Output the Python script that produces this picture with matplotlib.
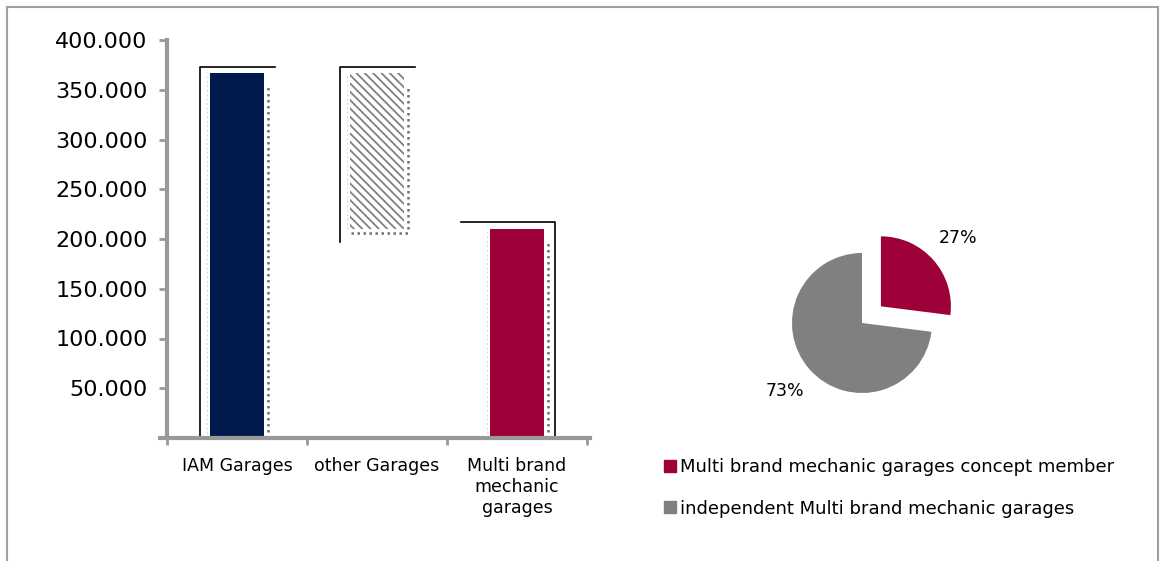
import matplotlib.pyplot as plt
import matplotlib.ticker as mticker
from matplotlib.patches import Rectangle, Patch

# datos del gráfico
categorias = ["IAM Garages", "other Garages", "Multi brand\nmechanic\ngarages"]
valor_iam = 367000
valor_multi = 210000
valor_otros = valor_iam - valor_multi
pie_etiquetas = ["Multi brand mechanic garages concept member",
                 "independent Multi brand mechanic garages"]
pie_valores = [27, 73]

azul = "#001a4d"
rojo = "#9e003a"
gris = "#808080"

plt.rcParams['font.family'] = ['DejaVu Sans']
plt.rcParams['hatch.linewidth'] = 1.3

fig = plt.figure(figsize=(11.62, 5.61), dpi=100)

# marco gris alrededor
fig.patches.append(Rectangle((7 / 1162, -0.05), 1151 / 1162, 1.05 - 7 / 561,
                             transform=fig.transFigure, fill=False,
                             edgecolor="#a0a0a0", linewidth=1.5))

# --- gráfico de barras (cascada) ---
ax = fig.add_axes([167 / 1162, 1 - 438 / 561, 420 / 1162, 398 / 561])
w = 0.386
bases = [0, valor_multi, 0]
alturas = [valor_iam, valor_otros, valor_multi]
ax.bar(0, valor_iam, width=w, color=azul, linewidth=0)
ax.bar(1, valor_otros, bottom=valor_multi, width=w, facecolor="white",
       edgecolor=gris, hatch="\\\\\\\\", linewidth=0)
ax.bar(2, valor_multi, width=w, color=rojo, linewidth=0)

# líneas punteadas y marcos negros
for i, (b, h) in enumerate(zip(bases, alturas)):
    xr = i + w / 2 + 0.03
    ax.plot([xr, xr], [b, b + h - 12000], color="#707070", lw=1.8,
            ls=(0, (1, 1.4)), solid_capstyle="butt")
    ax.plot([i - w / 2 - 0.02, i - w / 2 - 0.02], [b, b + h], color="#dddddd",
            lw=0.8, ls=(0, (2, 2)))
ax.plot([1 - w / 2 + 0.01, 1 + w / 2 + 0.03], [valor_multi - 3500] * 2,
        color="#707070", lw=1.8, ls=(0, (1, 1.4)))
top = valor_iam + 6000
ax.plot([-w / 2 - 0.071, -w / 2 - 0.071, w / 2 + 0.079],
        [0, top, top], color="black", lw=1.2)
ax.plot([1 - w / 2 - 0.071, 1 - w / 2 - 0.071, 1 + w / 2 + 0.079],
        [valor_multi - 13000, top, top], color="black", lw=1.2)
top3 = valor_multi + 7000
ax.plot([2 - w / 2 - 0.207, 2 + w / 2 + 0.079, 2 + w / 2 + 0.079],
        [top3, top3, 0], color="black", lw=1.2)

ax.set_xlim(-0.5, 2.5)
ax.set_ylim(0, 400000)
ax.set_yticks(range(50000, 400001, 50000))
ax.yaxis.set_major_formatter(mticker.FuncFormatter(
    lambda v, p: f"{int(v):,}".replace(",", ".")))
ax.set_xticks([-0.5, 0.5, 1.5, 2.5])
ax.set_xticklabels([])
ax.set_xticks([0, 1, 2], minor=True)
ax.set_xticklabels(categorias, minor=True, fontsize=12.5)
ax.tick_params(axis="x", which="minor", length=0, pad=14)
ax.tick_params(axis="x", which="major", length=5, width=2, color="#999999",
               direction="out")
ax.tick_params(axis="y", length=6, width=2, color="#999999", labelsize=16,
               pad=8)
for s in ["top", "right"]:
    ax.spines[s].set_visible(False)
ax.spines["left"].set_color("#999999")
ax.spines["left"].set_linewidth(3)
ax.spines["bottom"].set_color("#999999")
ax.spines["bottom"].set_linewidth(3)
ax.spines["bottom"].set_bounds(-0.55, 2.52)

# --- gráfico circular ---
axp = fig.add_axes([(862 - 175) / 1162, (561 - 323 - 175) / 561,
                    350 / 1162, 350 / 561])
axp.pie(pie_valores, colors=[rojo, gris], startangle=90, counterclock=False,
        explode=[0.36, 0], autopct="%d%%", pctdistance=1.47,
        textprops={"fontsize": 12.5, "color": "black"})
axp.set_xlim(-2.5, 2.5)
axp.set_ylim(-2.5, 2.5)
axp.axis("off")

# leyenda
handles = [Patch(color=rojo), Patch(color=gris)]
fig.legend(handles, pie_etiquetas, loc="upper left",
           bbox_to_anchor=(648 / 1162, 1 - 442 / 561), frameon=False,
           fontsize=13, handlelength=0.65, handleheight=0.65,
           handletextpad=0.25, labelspacing=1.3)

fig.savefig("out.png", dpi=100)
